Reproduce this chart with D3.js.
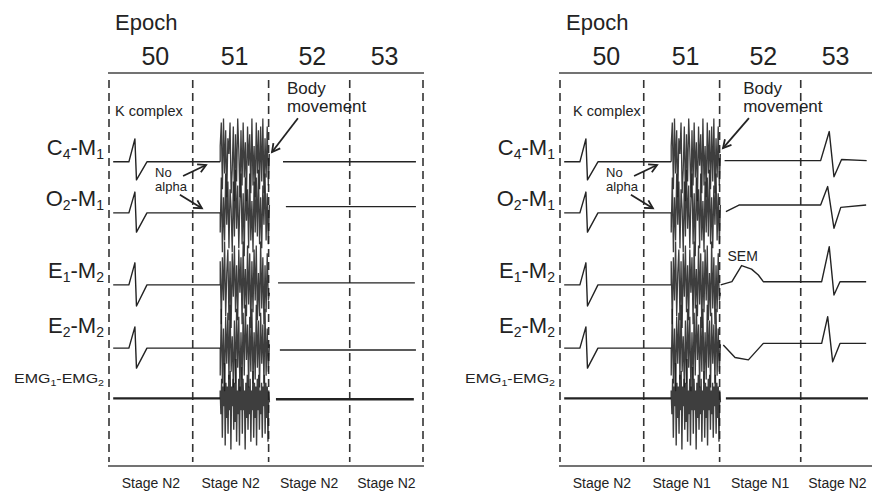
<!DOCTYPE html>
<html><head><meta charset="utf-8">
<script src="https://cdn.jsdelivr.net/npm/d3@7"></script>
<style>
html,body{margin:0;padding:0;background:#fff;}
svg{display:block;font-family:"Liberation Sans",Arial,sans-serif;}
</style></head><body>
<svg id="chart" width="872" height="493"></svg>
<script>
// ---------------- data ----------------
const epochs = ["50", "51", "52", "53"];
const epochBounds = [0, 32, 61, 92, 120];          // seconds
const epochLabelT = [17.7, 48, 77.7, 105.3];       // seconds
const stagesA = ["Stage N2", "Stage N2", "Stage N2", "Stage N2"];
const stagesB = ["Stage N2", "Stage N1", "Stage N1", "Stage N2"];
const channelNames = [["C","4","-M","1"],["O","2","-M","1"],["E","1","-M","2"],["E","2","-M","2"],["EMG","1","-EMG","2"]];
const channelBase = [77.4, 64.4, 46.1, 30.0, 17.2];

// epoch 50-51 (same in both panels): [t (s), amplitude]
const preC4  = [[1.6,77.4],[7.6,77.4],[9.9,83.2],[10.5,72.8],[14.5,77.4],[42.5,77.4]];
const preO2  = [[1.6,64.4],[7.6,64.4],[9.9,69.7],[10.5,59.5],[14.5,64.4],[42.5,64.4]];
const preE1  = [[1.6,46.1],[7.6,46.1],[9.9,51.7],[10.5,40.7],[14.5,46.1],[42.5,46.1]];
const preE2  = [[1.6,30.0],[7.6,30.0],[9.9,35.4],[10.5,24.9],[14.5,30.0],[42.5,30.0]];
const preEMG = [[1.6,17.2],[42.5,17.2]];

// body-movement artefact (deflections from each channel's baseline)
const burstC4  = [4,10,-7,11,-3,8,-9,6,2,10,-8,-2,9,-10,7,-5,11,3,-9,8,-6,10,-4,5,-10,9,-1,7,-8,11,-6,4,-9,10,-3,8,-7,9,-5,11,-8,6,-4,9,-6,2];
const burstO2  = [-5,9,-10,4,-7,10,-3,8,-9,6,1,-10,8,-6,11,-4,7,-9,3,10,-8,5,-11,9,-2,6,-9,10,-7,3,-10,8,-5,9,-6,11,-8,4,-9,7,-3,10,-7,5,-8,2];
const burstE1  = [6,-10,7,-4,11,-8,3,9,-9,6,-11,8,-3,10,-7,5,-9,9,-2,7,-10,11,-6,4,-8,10,-5,8,-11,6,-7,9,-4,10,-9,3,-8,11,-6,7,-10,5,-7,8,-4,-2];
const burstE2  = [-7,10,-9,5,-11,8,-4,9,-8,11,-6,3,-10,7,-9,10,-5,8,-11,4,-8,9,-7,11,-3,6,-10,8,-6,10,-9,4,-8,11,-5,7,-10,9,-4,6,-9,10,-7,5,-6,1];
const burstEMG = [2,-4,5,-10,3,-2,9,-12,4,-5,3,-9,6,-3,7,-13,3,-2,5,-8,4,-6,10,-11,2,-4,5,-12,3,-3,8,-9,5,-3,2,-13,4,-5,6,-8,3,-4,5,-11,2,-3,7,-10,4,-5,3,-12,5,-3,6,-8,2,-4,4,-10,3,-2,6,-9,4,-5,3,-11,2,-1];
const burstStart = 42.5, burstEnd = 61.3;

// epochs 52-53, left panel
const postA_C4  = [[66.5,77.4],[117.3,77.4]];
const postA_O2  = [[67.6,66.0],[117.3,66.0]];
const postA_E1  = [[64.6,46.6],[116.9,46.6]];
const postA_E2  = [[65.3,29.5],[117.3,29.5]];
const postA_EMG = [[63.8,17.0],[116.5,17.0]];

// epochs 52-53, right panel
const postB_C4  = [[62.9,77.7],[99.6,77.7],[102.9,85.1],[104.7,73.6],[107.6,78.0],[117.2,77.7]];
const postB_O2  = [[63.4,64.7],[68.4,66.4],[99.6,66.4],[102.3,71.1],[104.7,60.5],[107.3,65.8],[117.0,66.4]];
const postB_E1  = [[61.4,46.1],[65.7,46.9],[69.4,51.0],[73.2,50.1],[75.8,48.6],[77.7,46.9],[100.0,46.9],[102.9,55.8],[104.7,43.5],[107.0,46.9],[117.0,46.9]];
const postB_E2  = [[62.4,30.8],[66.9,27.6],[72.0,27.0],[77.7,31.2],[100.0,31.2],[102.3,38.0],[104.2,26.5],[107.0,31.2],[117.0,31.2]];
const postB_EMG = [[63.4,17.2],[117.7,17.2]];

// ---------------- drawing ----------------
const svg = d3.select("#chart");
const INK = "#232323";
const y = d3.scaleLinear().domain([0, 100]).range([466, 73]);
const line = (x) => d3.line().x(d => x(d[0])).y(d => y(d[1]));

function arrow(g, x1, y1, x2, y2) {
  g.append("line").attr("x1", x1).attr("y1", y1).attr("x2", x2).attr("y2", y2)
    .attr("stroke", INK).attr("stroke-width", 1.8);
  const a = Math.atan2(y2 - y1, x2 - x1), L = 9, s = 0.5;
  g.append("path")
    .attr("d", `M${x2 - L*Math.cos(a - s)},${y2 - L*Math.sin(a - s)}L${x2},${y2}L${x2 - L*Math.cos(a + s)},${y2 - L*Math.sin(a + s)}`)
    .attr("fill", "none").attr("stroke", INK).attr("stroke-width", 1.8);
}

function panel(x0, stages, post, isB) {
  const x = d3.scaleLinear().domain([0, 120]).range([x0, x0 + 314]);
  const g = svg.append("g");
  const L = line(x);

  // frame lines
  [100, 0].forEach(v => g.append("line").attr("x1", x(0) - 1).attr("x2", Math.min(x(120) + 1, 872))
    .attr("y1", y(v)).attr("y2", y(v)).attr("stroke", "#444").attr("stroke-width", 1.6));

  // epoch boundaries
  g.selectAll(".b").data(epochBounds).join("line")
    .attr("x1", d => x(d)).attr("x2", d => x(d))
    .attr("y1", y(98.2)).attr("y2", y(1))
    .attr("stroke", "#333").attr("stroke-width", 1.6).attr("stroke-dasharray", "8,5");

  // titles
  g.append("text").attr("x", x(2.3)).attr("y", 30).attr("font-size", 22).attr("fill", INK).text("Epoch");
  g.selectAll(".ep").data(epochs).join("text")
    .attr("x", (d, i) => x(epochLabelT[i])).attr("y", 65).attr("text-anchor", "middle")
    .attr("font-size", 25).attr("fill", INK).text(d => d);
  g.selectAll(".st").data(stages).join("text")
    .attr("x", (d, i) => x((epochBounds[i] + epochBounds[i + 1]) / 2)).attr("y", 488)
    .attr("text-anchor", "middle").attr("font-size", 14).attr("fill", INK).text(d => d);

  // channel labels
  const labOff = [7, 7, 7, 15, 15];
  channelNames.forEach((p, i) => {
    const isEmg = i === 4;
    const t = g.append("text").attr("x", x0 - 5).attr("y", y(channelBase[i]) - labOff[i])
      .attr("text-anchor", "end").attr("fill", INK).attr("font-size", isEmg ? 13.5 : 22);
    if (isEmg) t.attr("textLength", 90).attr("lengthAdjust", "spacingAndGlyphs");
    const sub = isEmg ? 9 : 14, dy = isEmg ? 3 : 4;
    t.append("tspan").text(p[0]);
    t.append("tspan").attr("font-size", sub).attr("dy", dy).text(p[1]);
    t.append("tspan").attr("dy", -dy).text(p[2]);
    t.append("tspan").attr("font-size", sub).attr("dy", dy).text(p[3]);
  });

  // traces before artefact
  const pre = [preC4, preO2, preE1, preE2, preEMG];
  pre.forEach((d, i) => g.append("path").attr("d", L(d)).attr("fill", "none")
    .attr("stroke", INK).attr("stroke-width", i === 4 ? 2.4 : 1.4).attr("stroke-linejoin", "round"));

  // artefact burst
  const bursts = [burstC4, burstO2, burstE1, burstE2, burstEMG];
  bursts.forEach((vals, i) => {
    const n = vals.length;
    const pts = [[burstStart, channelBase[i]]].concat(vals.map((v, k) =>
      [burstStart + k * (burstEnd - burstStart) / (n - 1), channelBase[i] + v]));
    g.append("path").attr("d", L(pts)).attr("fill", "none")
      .attr("stroke", "#1c1c1c").attr("stroke-width", i === 4 ? 1.4 : 1.3).attr("stroke-opacity", 0.85);
  });

  // traces after artefact
  post.forEach((d, i) => g.append("path").attr("d", L(d)).attr("fill", "none")
    .attr("stroke", INK).attr("stroke-width", i === 4 ? 2.4 : 1.4).attr("stroke-linejoin", "round"));

  // annotations
  g.append("text").attr("x", x(isB ? 5 : 2.3)).attr("y", y(89.1)).attr("font-size", 14.5).attr("fill", INK).text("K complex");
  g.append("text").attr("x", x(17.6)).attr("y", y(73.5)).attr("font-size", 13).attr("fill", INK).text("No");
  g.append("text").attr("x", x(17.6)).attr("y", y(70.0)).attr("font-size", 13).attr("fill", INK).text("alpha");
  arrow(g, x(28.3), y(73.8), x(37.1), y(76.6));
  arrow(g, x(27.1), y(69.0), x(35.5), y(65.6));
  const bt = isB ? 70.0 : 68.0;
  g.append("text").attr("x", x(bt)).attr("y", y(94.7)).attr("font-size", 17).attr("fill", INK).text("Body");
  g.append("text").attr("x", x(bt)).attr("y", y(90.1)).attr("font-size", 17).attr("fill", INK).text("movement");
  arrow(g, x(72.2), y(88.5), x(62.3), y(isB ? 80.9 : 79.9));
  if (isB) g.append("text").attr("x", x(64)).attr("y", y(52.2)).attr("font-size", 14).attr("fill", INK).text("SEM");
}

panel(109, stagesA, [postA_C4, postA_O2, postA_E1, postA_E2, postA_EMG], false);
panel(560, stagesB, [postB_C4, postB_O2, postB_E1, postB_E2, postB_EMG], true);
</script>
</body></html>
